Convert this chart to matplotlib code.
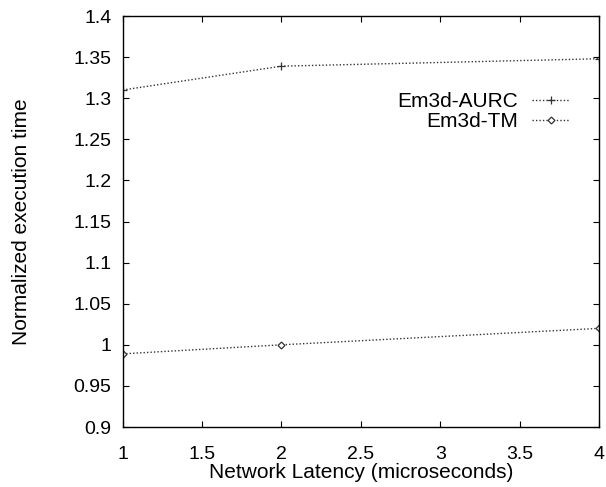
import matplotlib.pyplot as plt

plt.rcParams["font.family"] = ["Liberation Sans", "DejaVu Sans"]

latency = [1, 2, 4]
aurc = [1.31, 1.339, 1.348]
tm = [0.989, 1.000, 1.020]

x_ticks = [1, 1.5, 2, 2.5, 3, 3.5, 4]
x_labels = ["1", "1.5", "2", "2.5", "3", "3.5", "4"]
y_ticks = [0.9, 0.95, 1.0, 1.05, 1.1, 1.15, 1.2, 1.25, 1.3, 1.35, 1.4]
y_labels = ["0.9", "0.95", "1", "1.05", "1.1", "1.15", "1.2", "1.25", "1.3", "1.35", "1.4"]

fig = plt.figure(figsize=(6.06, 4.87), dpi=100)
ax = fig.add_axes([0.2025, 0.1232, 0.7859, 0.8439])

ax.plot(latency, aurc, color="#333333", linestyle=(0, (1, 1.5)), linewidth=1,
        marker="+", markersize=6, markeredgewidth=0.9, label="Em3d-AURC")
ax.plot(latency, tm, color="#333333", linestyle=(0, (1, 1.5)), linewidth=1,
        marker="D", markersize=3.5, markerfacecolor="white", markeredgewidth=0.9,
        label="Em3d-TM")

ax.set_xlim(1, 4)
ax.set_ylim(0.9, 1.4)
ax.set_xticks(x_ticks)
ax.set_xticklabels(x_labels)
ax.set_yticks(y_ticks)
ax.set_yticklabels(y_labels)
ax.tick_params(direction="in", length=4, width=0.8, top=True, right=True,
               labelsize=14)
ax.tick_params(axis="x", pad=14)
ax.tick_params(axis="y", pad=8)
for s in ax.spines.values():
    s.set_linewidth(1)

ax.set_xlabel("Network Latency (microseconds)", fontsize=15, labelpad=0)
ax.set_ylabel("Normalized execution time", fontsize=15, labelpad=31)

ax.legend(loc="upper right", bbox_to_anchor=(0.94, 0.815), frameon=False,
          markerfirst=False, fontsize=15, handlelength=1.83, handletextpad=0.67,
          labelspacing=0.05, borderpad=0, borderaxespad=0)

fig.savefig("out.png", dpi=100)
